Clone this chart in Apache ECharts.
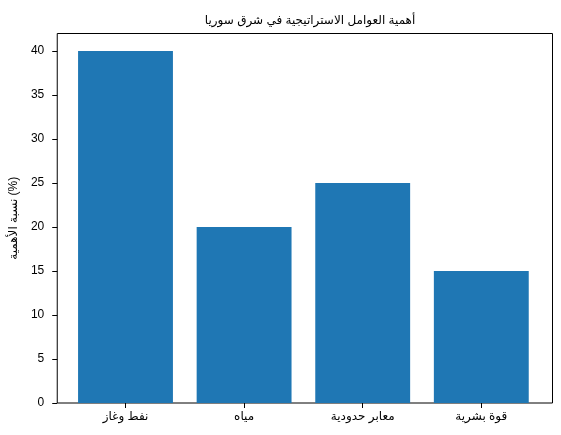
<!DOCTYPE html>
<html><head><meta charset="utf-8">
<script src="https://cdn.jsdelivr.net/npm/echarts@6/dist/echarts.min.js"></script>
<style>html,body{margin:0;padding:0;background:#fff}#c{width:561px;height:435px}</style>
</head><body><div id="c"></div>
<script>
const categories = ['نفط وغاز', 'مياه', 'معابر حدودية', 'قوة بشرية'];
const values = [40, 20, 25, 15];
const titleText = 'أهمية العوامل الاستراتيجية في شرق سوريا';
const yLabel = 'نسبة الأهمية (%)';

const FONT = "'Liberation Sans', 'DejaVu Sans', Arial, sans-serif";
const chart = echarts.init(document.getElementById('c'), null, {renderer: 'canvas'});
chart.setOption({
  animation: false,
  backgroundColor: '#fff',
  title: {text: titleText, left: 305, top: 10, textAlign: 'center',
    textStyle: {fontFamily: FONT, fontSize: 12, fontWeight: 'normal', color: '#000'}},
  grid: [
    {left: 56.5, right: 8.5, top: 33.5, bottom: 32, show: true, borderColor: '#000', borderWidth: 1, backgroundColor: 'transparent', containLabel: false},
    {left: 66.2, right: 20.4, top: 33.5, bottom: 32, containLabel: false}
  ],
  xAxis: [
    {gridIndex: 0, type: 'value', min: 0, max: 1, show: false},
    {gridIndex: 1, type: 'category', data: categories, boundaryGap: true,
      axisLine: {show: false}, axisTick: {show: true, alignWithLabel: true, length: 5, lineStyle: {color: '#000'}},
      axisLabel: {color: '#000', fontFamily: FONT, fontSize: 12, margin: 8}, splitLine: {show: false}}
  ],
  yAxis: [
    {gridIndex: 0, type: 'value', min: 0, max: 42, interval: 5, name: yLabel, nameLocation: 'middle', nameGap: 37,
      nameTextStyle: {fontFamily: FONT, fontSize: 12, color: '#000'},
      axisLine: {show: false}, axisTick: {show: true, length: 5, lineStyle: {color: '#000'}},
      axisLabel: {color: '#000', fontFamily: FONT, fontSize: 12, margin: 13, showMaxLabel: false}, splitLine: {show: false}},
    {gridIndex: 1, type: 'value', min: 0, max: 42, show: false}
  ],
  series: [{type: 'bar', xAxisIndex: 1, yAxisIndex: 1, data: values, barWidth: '80%',
    itemStyle: {color: '#1f77b4'}}]
});
</script></body></html>
